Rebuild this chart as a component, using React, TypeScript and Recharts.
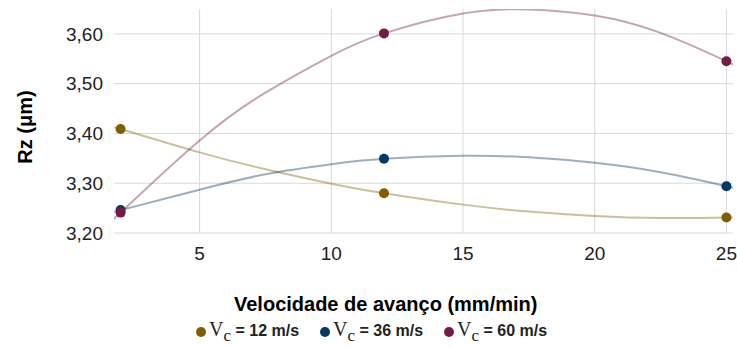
import { ComposedChart, Line, Scatter, XAxis, YAxis, CartesianGrid } from 'recharts';

// medido: três velocidades de avanço
const feedRates = [2, 12, 25];
const rz12 = [3.409, 3.28, 3.231];
const rz36 = [3.246, 3.349, 3.294];
const rz60 = [3.241, 3.601, 3.545];

// linhas de tendência
const trendFeed = [1.75, 2, 5, 7.5, 10, 12, 15, 17.5, 20, 22.5, 25, 25.25];
const trend12 = [3.413, 3.409, 3.362, 3.328, 3.299, 3.28, 3.257, 3.243, 3.234, 3.23, 3.231, 3.232];
const trend36 = [3.242, 3.246, 3.287, 3.318, 3.338, 3.349, 3.355, 3.352, 3.341, 3.322, 3.294, 3.291];
const trend60 = [3.228, 3.241, 3.386, 3.482, 3.556, 3.601, 3.641, 3.649, 3.637, 3.602, 3.545, 3.538];

const xTicks = [5, 10, 15, 20, 25];
const yTicks = [3.2, 3.3, 3.4, 3.5, 3.6];

const series = [
  { label: '12', color: '#7f6000', points: rz12, trend: trend12 },
  { label: '36', color: '#073763', points: rz36, trend: trend36 },
  { label: '60', color: '#741b47', points: rz60, trend: trend60 },
];

const toPoints = (xs: number[], ys: number[]) => xs.map((x, i) => ({ x, y: ys[i] }));

const sans = '"Liberation Sans", Arial, sans-serif';
const serif = '"Liberation Serif", "Times New Roman", serif';
const legendLeft = [196, 320, 444];

export default function App() {
  return (
    <div style={{ position: 'absolute', left: 0, top: 0, width: 737, height: 347, fontFamily: sans, background: '#fff' }}>
      <ComposedChart width={737} height={347} margin={{ top: 9, right: 4, left: 0, bottom: 0 }}>
        <CartesianGrid stroke="#d9d9d9" strokeWidth={1} horizontalValues={yTicks} verticalValues={xTicks} />
        <XAxis
          type="number"
          dataKey="x"
          domain={[1.75, 25.25]}
          ticks={xTicks}
          height={114}
          axisLine={false}
          tickLine={false}
          tickSize={0}
          tickMargin={14}
          tick={{ fontSize: 19, fill: '#222', fontFamily: sans }}
          allowDataOverflow
        />
        <YAxis
          type="number"
          dataKey="y"
          domain={[3.2, 3.65]}
          ticks={yTicks}
          width={114}
          axisLine={false}
          tickLine={false}
          tickSize={0}
          tickMargin={11}
          tick={{ fontSize: 19, fill: '#222', fontFamily: sans }}
          tickFormatter={(v: number) => v.toFixed(2).replace('.', ',')}
          allowDataOverflow
        />
        {series.map((s) => (
          <Line
            key={'t' + s.label}
            data={toPoints(trendFeed, s.trend)}
            dataKey="y"
            type="natural"
            stroke={s.color}
            strokeOpacity={0.4}
            strokeWidth={2}
            dot={false}
            activeDot={false}
            isAnimationActive={false}
          />
        ))}
        {series.map((s) => (
          <Scatter
            key={'p' + s.label}
            data={toPoints(feedRates, s.points)}
            dataKey="y"
            fill={s.color}
            isAnimationActive={false}
            shape={(p: any) => <circle cx={p.cx} cy={p.cy} r={5} fill={s.color} />}
          />
        ))}
      </ComposedChart>

      <div
        style={{
          position: 'absolute',
          left: -25,
          top: 115,
          width: 100,
          height: 24,
          lineHeight: '24px',
          textAlign: 'center',
          fontSize: 20,
          fontWeight: 'bold',
          color: '#000',
          transform: 'rotate(-90deg)',
          whiteSpace: 'nowrap',
        }}
      >
        Rz (μm)
      </div>

      <div
        style={{
          position: 'absolute',
          left: 234,
          top: 294,
          lineHeight: '20px',
          fontSize: 20,
          fontWeight: 'bold',
          color: '#000',
          whiteSpace: 'nowrap',
        }}
      >
        Velocidade de avanço (mm/min)
      </div>

      {series.map((s, i) => (
        <div
          key={'l' + s.label}
          style={{
            position: 'absolute',
            left: legendLeft[i],
            top: 321,
            height: 24,
            lineHeight: '20px',
            fontSize: 16,
            fontWeight: 'bold',
            color: '#222',
            whiteSpace: 'nowrap',
          }}
        >
          <span
            style={{
              display: 'inline-block',
              width: 10,
              height: 10,
              borderRadius: '50%',
              background: s.color,
              marginRight: 3,
              verticalAlign: 'middle',
            }}
          />
          <span style={{ fontFamily: serif, fontWeight: 'normal', fontSize: 20, lineHeight: '16px' }}>V</span>
          <span
            style={{
              fontFamily: serif,
              fontWeight: 'normal',
              fontSize: 17,
              lineHeight: '12px',
              position: 'relative',
              top: 5,
            }}
          >
            c
          </span>
          {` = ${s.label} m/s`}
        </div>
      ))}
    </div>
  );
}
